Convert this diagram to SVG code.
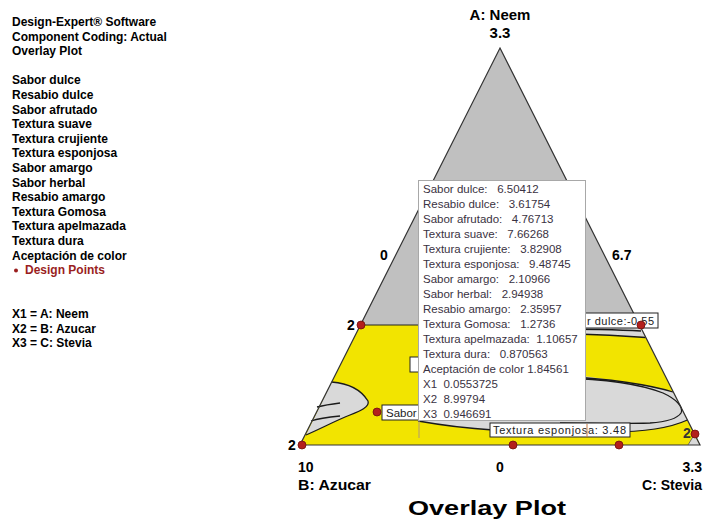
<svg xmlns="http://www.w3.org/2000/svg" width="704" height="522" viewBox="0 0 704 522">
<style>
.lg{font-family:"Liberation Sans",Arial,sans-serif;font-weight:bold;font-size:12px;fill:#000}
.ax{font-family:"Liberation Sans",Arial,sans-serif;font-weight:bold;font-size:14px;fill:#000}
.tt{font-family:"Liberation Sans",Arial,sans-serif;font-size:11.5px;fill:#3a3242;white-space:pre}
.lb{font-family:"Liberation Sans",Arial,sans-serif;font-size:11px;fill:#222}
.dot{fill:#b3201c;stroke:#6e100e;stroke-width:0.8}
.ct{fill:none;stroke:#1a1a1a;stroke-width:1.3}
.lgray{fill:#d9d9d9}
.box{fill:#fff;stroke:#222;stroke-width:1}
</style>
<rect width="704" height="522" fill="#fff"/>
<g id="legend">
<text class="lg" x="12" y="26">Design-Expert® Software</text>
<text class="lg" x="12" y="40.6">Component Coding: Actual</text>
<text class="lg" x="12" y="55.2">Overlay Plot</text>
<text class="lg" x="12" y="84.4">Sabor dulce</text>
<text class="lg" x="12" y="99">Resabio dulce</text>
<text class="lg" x="12" y="113.6">Sabor afrutado</text>
<text class="lg" x="12" y="128.2">Textura suave</text>
<text class="lg" x="12" y="142.8">Textura crujiente</text>
<text class="lg" x="12" y="157.4">Textura esponjosa</text>
<text class="lg" x="12" y="172">Sabor amargo</text>
<text class="lg" x="12" y="186.6">Sabor herbal</text>
<text class="lg" x="12" y="201.2">Resabio amargo</text>
<text class="lg" x="12" y="215.8">Textura Gomosa</text>
<text class="lg" x="12" y="230.4">Textura apelmazada</text>
<text class="lg" x="12" y="245">Textura dura</text>
<text class="lg" x="12" y="259.6">Aceptación de color</text>
<circle cx="16" cy="270.5" r="2" fill="#9a1e1e"/>
<text class="lg" x="25" y="274.2" style="fill:#9a1e1e">Design Points</text>
<text class="lg" x="12" y="318">X1 = A: Neem</text>
<text class="lg" x="12" y="332.6">X2 = B: Azucar</text>
<text class="lg" x="12" y="347.2">X3 = C: Stevia</text>
</g>
<g id="plot">
<polygon points="500,48 639.5,325 360.5,325" fill="#c0c0c0"/>
<polygon points="360.5,325 639.5,325 700,445 300,445" fill="#f2e400"/>
<path class="lgray" d="M 540,325 L 639.5,325 L 645.5,337 C 620,336 590,334 540,333 Z"/>
<path class="lgray" d="M 418,372 L 540,372 C 590,376 640,383 673,392 L 687.4,420 C 670,428 640,432 610,432 C 560,432 520,431 493,430 C 460,428 435,424 418,421 Z"/>
<path class="lgray" d="M 331.7,382 C 345,383 360,388 368,401 C 370,407 360,411 350,415 C 337,420 322,428 306,435 Z"/>
<polygon class="lgray" points="694,435 688,445 700,445"/>
</g>
<g id="connectors">
<path class="ct" d="M 540,329 C 590,329 625,330 641,331"/>
<path class="ct" d="M 540,333 C 590,334 625,336 645.5,337.5"/>
<path class="ct" d="M 560,376 C 610,379 650,385 673,392"/>
<path class="ct" d="M 560,378 C 605,379 640,384 663,393 C 676,399 684,407 681,413 C 677,419 665,422 650,423 C 620,424 590,423 560,423"/>
<path class="ct" d="M 418,421 C 435,424 460,428 493,430 C 520,431 560,432 610,432 C 640,432 670,428 687.4,420"/>
<path class="ct" d="M 331.7,382 C 345,383 360,388 368,401 C 370,407 360,411 350,415 C 337,420 322,428 306,435"/>
<path class="ct" d="M 317,407 C 325,405 332,404 340,403"/>
<path class="ct" d="M 311,421 C 320,418 330,417 340,416"/>
<line x1="360.5" y1="325" x2="639.5" y2="325" stroke="#222" stroke-width="1.2"/>
<polygon points="500,48 700,445 300,445" fill="none" stroke="#333" stroke-width="1.2"/>
<line x1="694" y1="435" x2="688" y2="445" stroke="#555" stroke-width="0.8"/>
</g>
<g id="axis-labels">
<text class="ax" x="500" y="20" text-anchor="middle" style="font-size:15px">A: Neem</text>
<text class="ax" x="500" y="38" text-anchor="middle" style="font-size:15px">3.3</text>
<text class="ax" x="384" y="260" text-anchor="middle">0</text>
<text class="ax" x="612" y="260">6.7</text>
<text class="ax" x="351" y="330" text-anchor="middle">2</text>
<text class="ax" x="292" y="450" text-anchor="middle">2</text>
<text class="ax" x="687" y="438" text-anchor="middle" style="fill:#333">2</text>
<text class="ax" x="298" y="472">10</text>
<text class="ax" x="500" y="472" text-anchor="middle">0</text>
<text class="ax" x="702" y="472" text-anchor="end">3.3</text>
<text class="ax" x="298" y="490" textLength="73" lengthAdjust="spacingAndGlyphs">B: Azucar</text>
<text class="ax" x="702" y="490" text-anchor="end">C: Stevia</text>
<text class="ax" x="408" y="515" textLength="158" lengthAdjust="spacingAndGlyphs" style="font-size:21px">Overlay Plot</text>
</g>
<g id="contour-labels">
<rect class="box" x="575" y="313" width="83" height="15"/>
<text class="lb" x="587" y="324.5" textLength="67" lengthAdjust="spacing">r dulce:-0.55</text>
<rect class="box" x="382" y="405" width="40" height="15"/>
<text class="lb" x="386" y="416.5" style="font-size:11.5px">Sabor</text>
<rect class="box" x="410" y="357" width="12" height="15"/>
<rect class="box" x="490" y="423" width="140" height="14"/>
<text class="lb" x="493" y="434" textLength="133" lengthAdjust="spacing">Textura esponjosa: 3.48</text>
</g>
<g id="design-points">
<circle class="dot" cx="302" cy="445" r="4"/>
<circle class="dot" cx="361" cy="325" r="4"/>
<circle class="dot" cx="641" cy="325" r="4"/>
<circle class="dot" cx="695" cy="434" r="4"/>
<circle class="dot" cx="513" cy="445" r="4"/>
<circle class="dot" cx="619" cy="445" r="4"/>
<circle class="dot" cx="377" cy="412" r="4"/>
</g>
<g id="tooltip">
<rect x="418.5" y="180.5" width="167" height="240" fill="#fff" stroke="#a8a8a8" stroke-width="1"/>
<line x1="419" y1="421" x2="419" y2="438" stroke="#b09878" stroke-width="1"/>
<line x1="587" y1="424" x2="587" y2="437" stroke="#c87a40" stroke-width="1"/>
<text class="tt" xml:space="preserve" x="423" y="193">Sabor dulce:   6.50412</text>
<text class="tt" xml:space="preserve" x="423" y="208">Resabio dulce:   3.61754</text>
<text class="tt" xml:space="preserve" x="423" y="223">Sabor afrutado:   4.76713</text>
<text class="tt" xml:space="preserve" x="423" y="238">Textura suave:   7.66268</text>
<text class="tt" xml:space="preserve" x="423" y="253">Textura crujiente:   3.82908</text>
<text class="tt" xml:space="preserve" x="423" y="268">Textura esponjosa:   9.48745</text>
<text class="tt" xml:space="preserve" x="423" y="283">Sabor amargo:   2.10966</text>
<text class="tt" xml:space="preserve" x="423" y="298">Sabor herbal:   2.94938</text>
<text class="tt" xml:space="preserve" x="423" y="313">Resabio amargo:   2.35957</text>
<text class="tt" xml:space="preserve" x="423" y="328">Textura Gomosa:   1.2736</text>
<text class="tt" xml:space="preserve" x="423" y="343">Textura apelmazada:  1.10657</text>
<text class="tt" xml:space="preserve" x="423" y="358">Textura dura:   0.870563</text>
<text class="tt" xml:space="preserve" x="423" y="373">Aceptación de color 1.84561</text>
<text class="tt" xml:space="preserve" x="423" y="388">X1  0.0553725</text>
<text class="tt" xml:space="preserve" x="423" y="403">X2  8.99794</text>
<text class="tt" xml:space="preserve" x="423" y="418">X3  0.946691</text>
</g>
</svg>
